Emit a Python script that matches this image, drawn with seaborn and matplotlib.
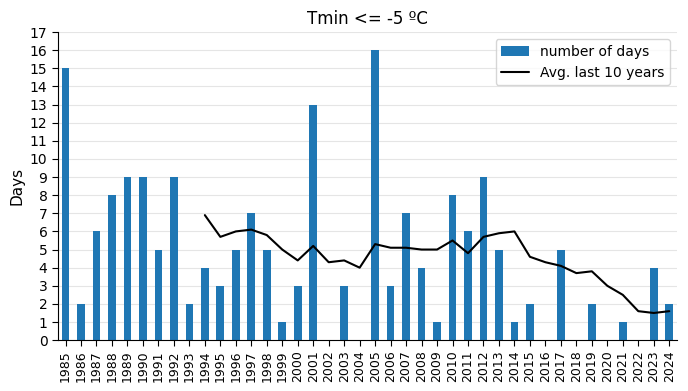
import pandas as pd
import matplotlib
matplotlib.use("Agg")
import matplotlib.pyplot as plt
import seaborn as sns

years = list(range(1985, 2025))
days = [15, 2, 6, 8, 9, 9, 5, 9, 2, 4,
        3, 5, 7, 5, 1, 3, 13, 0, 3, 0,
        16, 3, 7, 4, 1, 8, 6, 9, 5, 1,
        2, 0, 5, 0, 2, 0, 1, 0, 4, 2]
# average of the last 10 years, starts in 1994
avg_10y = [None] * 9 + [6.9, 5.7, 6.0, 6.1, 5.8, 5.0, 4.4, 5.2, 4.3, 4.4, 4.0,
                        5.3, 5.1, 5.1, 5.0, 5.0, 5.5, 4.8, 5.7, 5.9, 6.0,
                        4.6, 4.3, 4.1, 3.7, 3.8, 3.0, 2.5, 1.6, 1.5, 1.6]

df = pd.DataFrame({"year": [str(y) for y in years], "days": days,
                   "avg": pd.array(avg_10y, dtype="Float64").astype(float)})
df["pos"] = range(len(df))

sns.set_style("white", {"axes.edgecolor": "black", "text.color": "black",
                        "xtick.color": "black", "ytick.color": "black",
                        "axes.labelcolor": "black"})
plt.rcParams["font.family"] = ["DejaVu Sans"]

fig, ax = plt.subplots(figsize=(6.88, 3.91), dpi=100)

sns.barplot(data=df, x="year", y="days", color="#1f77b4", saturation=1,
            width=0.5, linewidth=0, edgecolor="none", ax=ax,
            label="number of days", zorder=2)
sns.lineplot(data=df, x="pos", y="avg", color="black", linewidth=1.5,
             ax=ax, label="Avg. last 10 years", zorder=3)

ax.set_xlim(-0.5, len(df) - 0.5)
ax.set_ylim(0, 17)
ax.set_yticks(range(0, 18))
ax.yaxis.grid(True, color="#e5e5e5", linewidth=0.8, zorder=0)
ax.set_axisbelow(True)
ax.tick_params(axis="x", rotation=90, labelsize=9, length=4, bottom=True)
ax.tick_params(axis="y", labelsize=10, length=4, left=True)
ax.set_xlabel("")
ax.set_ylabel("Days", fontsize=11)
ax.set_title("Tmin <= -5 ºC", fontsize=12)

sns.despine(ax=ax)
handles, labels = ax.get_legend_handles_labels()
order = [labels.index("number of days"), labels.index("Avg. last 10 years")]
ax.legend([handles[i] for i in order], [labels[i] for i in order],
          loc="upper right", fontsize=10)

fig.subplots_adjust(left=0.084, right=0.984, top=0.918, bottom=0.130)
fig.savefig("out.png", dpi=100)
